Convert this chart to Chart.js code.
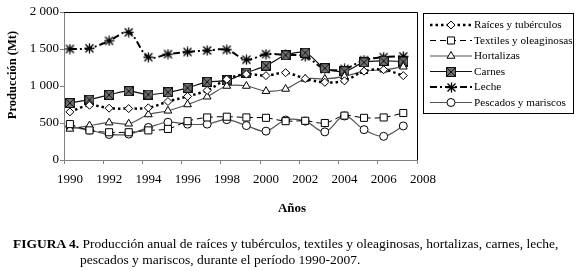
<!DOCTYPE html>
<html><head><meta charset="utf-8">
<script src="https://cdn.jsdelivr.net/npm/chart.js@4.4.1/dist/chart.umd.min.js"></script>
<style>
html,body{margin:0;padding:0;background:#fff;}
#wrap{position:relative;width:576px;height:271px;overflow:hidden;font-family:"Liberation Serif","Times New Roman",serif;color:#000;}
#c{position:absolute;left:0;top:0;}
.t{position:absolute;white-space:nowrap;font-size:13.5px;line-height:16px;}
</style></head>
<body><div id="wrap"><canvas id="c" width="576" height="271" style="width:576px;height:271px"></canvas>
<div class="t" style="left:251px;width:82px;text-align:center;top:200px;font-weight:bold;font-size:13px">Años</div>
<div class="t" style="left:13px;top:236px"><b>FIGURA 4.</b> Producción anual de raíces y tubérculos, textiles y oleaginosas, hortalizas, carnes, leche,</div>
<div class="t" style="left:80px;top:252px">pescados y mariscos, durante el período 1990-2007.</div>
</div>
<script>
const YEARS = [1990,1991,1992,1993,1994,1995,1996,1997,1998,1999,2000,2001,2002,2003,2004,2005,2006,2007];
const RAICES    = [650,740,700,695,705,790,860,940,1090,1160,1140,1180,1100,1050,1070,1200,1220,1140];
const TEXTILES  = [485,400,375,375,400,420,525,575,585,575,570,525,530,500,600,570,575,635];
const HORTALIZAS= [420,465,505,490,615,665,750,855,1000,1000,930,960,1095,1095,1130,1200,1220,1260];
const CARNES    = [770,815,880,930,885,915,975,1055,1075,1180,1275,1415,1450,1240,1200,1320,1340,1330];
const LECHE     = [1500,1510,1610,1725,1390,1430,1460,1480,1490,1355,1430,1420,1400,1230,1230,1350,1390,1400];
const PESCADOS  = [450,405,345,350,440,510,485,485,545,465,390,540,525,380,595,410,320,460];
const SERIES_NAMES = ['Raíces y tubérculos','Textiles y oleaginosas','Hortalizas','Carnes','Leche','Pescados y mariscos'];
const X_TICK_LABELS = ['1990','1992','1994','1996','1998','2000','2002','2004','2006','2008'];
const Y_TICKS = [0,500,1000,1500,2000];
const Y_TITLE = 'Producción (Mt)';

function carnesMarker(){
  const c=document.createElement('canvas'); c.width=10; c.height=10;
  const g=c.getContext('2d');
  g.fillStyle='#6e6e6e'; g.fillRect(0,0,10,10);
  g.strokeStyle='#111'; g.lineWidth=1; g.strokeRect(0.5,0.5,9,9);
  g.beginPath(); g.moveTo(1,1); g.lineTo(9,9); g.moveTo(9,1); g.lineTo(1,9); g.stroke();
  return c;
}
function starMarker(){
  const c=document.createElement('canvas'); c.width=11; c.height=11;
  const g=c.getContext('2d');
  g.strokeStyle='#000'; g.lineWidth=1.3;
  g.beginPath();
  g.moveTo(1.5,1.5); g.lineTo(9.5,9.5); g.moveTo(9.5,1.5); g.lineTo(1.5,9.5);
  g.moveTo(5.5,0.5); g.lineTo(5.5,10.5); g.moveTo(0.5,5.5); g.lineTo(10.5,5.5);
  g.stroke();
  return c;
}
const CARNES_PT = carnesMarker();
const STAR_PT = starMarker();

function pts(arr){ return arr.map((v,i)=>({x:YEARS[i], y:v})); }

const datasets = [
  {label:SERIES_NAMES[0], data:pts(RAICES), borderColor:'#000', borderWidth:2.5, borderDash:[2.5,3],
   pointStyle:'rectRot', pointRadius:4, pointBorderWidth:1, pointBackgroundColor:'#fff', pointBorderColor:'#000'},
  {label:SERIES_NAMES[1], data:pts(TEXTILES), borderColor:'#000', borderWidth:1, borderDash:[6,4],
   pointStyle:'rect', pointRadius:5, pointBorderWidth:1, pointBackgroundColor:'#fff', pointBorderColor:'#000'},
  {label:SERIES_NAMES[2], data:pts(HORTALIZAS), borderColor:'#555', borderWidth:1.2, borderDash:[],
   pointStyle:'triangle', pointRadius:4.5, pointBorderWidth:1, pointBackgroundColor:'#fff', pointBorderColor:'#000'},
  {label:SERIES_NAMES[3], data:pts(CARNES), borderColor:'#111', borderWidth:1.2, borderDash:[],
   pointStyle:CARNES_PT, pointRadius:5, pointBorderWidth:1, pointBackgroundColor:'#6e6e6e', pointBorderColor:'#000'},
  {label:SERIES_NAMES[4], data:pts(LECHE), borderColor:'#000', borderWidth:2, borderDash:[7,3,2,3],
   pointStyle:STAR_PT, pointRadius:5, pointBorderWidth:1, pointBackgroundColor:'#000', pointBorderColor:'#000'},
  {label:SERIES_NAMES[5], data:pts(PESCADOS), borderColor:'#555', borderWidth:1.2, borderDash:[],
   pointStyle:'circle', pointRadius:4, pointBorderWidth:1, pointBackgroundColor:'#fff', pointBorderColor:'#000'}
];
datasets.forEach(d=>{ d.tension=0.35; d.fill=false; d.pointHoverRadius=d.pointRadius; });

const FONT = '"Liberation Serif","Times New Roman",serif';

const boxPlugin = {
  id:'box',
  afterDraw(chart){
    const {ctx, chartArea:a} = chart;
    ctx.save();
    ctx.strokeStyle='#000'; ctx.lineWidth=1;
    ctx.beginPath();
    ctx.moveTo(a.left, Math.round(a.top)+0.5); ctx.lineTo(Math.round(a.right)+0.5, Math.round(a.top)+0.5);
    ctx.lineTo(Math.round(a.right)+0.5, a.bottom);
    ctx.stroke();
    // y-axis title
    ctx.save();
    ctx.translate(13, 75); ctx.rotate(-Math.PI/2);
    ctx.font='bold 12.5px '+FONT; ctx.textAlign='center'; ctx.textBaseline='middle'; ctx.fillStyle='#000';
    ctx.fillText(Y_TITLE, 0, 0);
    ctx.restore();
    // legend
    const lx=423.5, ly=13.5, lw=150, lh=100;
    ctx.strokeRect(lx,ly,lw,lh);
    ctx.font='11.2px '+FONT; ctx.textBaseline='middle'; ctx.textAlign='left'; ctx.fillStyle='#000';
    chart.data.datasets.forEach((d,i)=>{
      const y = 25 + i*15.5;
      ctx.save();
      ctx.strokeStyle=d.borderColor; ctx.lineWidth=d.borderWidth; ctx.setLineDash(d.borderDash||[]);
      ctx.beginPath(); ctx.moveTo(430,y); ctx.lineTo(472,y); ctx.stroke();
      ctx.setLineDash([]);
      const ps=d.pointStyle;
      if (ps instanceof HTMLCanvasElement){
        ctx.drawImage(ps, Math.round(451-ps.width/2), Math.round(y-ps.height/2));
      } else {
        ctx.fillStyle=d.pointBackgroundColor; ctx.strokeStyle=d.pointBorderColor; ctx.lineWidth=d.pointBorderWidth;
        Chart.helpers.drawPoint(ctx, {pointStyle:ps, radius:d.pointRadius, borderWidth:d.pointBorderWidth, rotation:0}, 451, y);
      }
      ctx.restore();
      ctx.fillStyle='#000';
      ctx.fillText(d.label, 474, y+0.5);
    });
    ctx.restore();
  }
};

new Chart(document.getElementById('c'), {
  type:'line',
  data:{datasets},
  plugins:[boxPlugin],
  options:{
    responsive:false, animation:false,
    layout:{padding:{left:0, top:12, right:159, bottom:87}},
    plugins:{legend:{display:false}, tooltip:{enabled:false}},
    scales:{
      x:{type:'linear', min:1989.7, max:2007.7,
        afterBuildTicks:(s)=>{ s.ticks = X_TICK_LABELS.map(l=>({value:Number(l)-0.3})); },
        afterFit:(s)=>{ s.height=24; },
        ticks:{autoSkip:false, maxRotation:0, labelOffset:6, padding:8, color:'#000', font:{family:FONT, size:13},
          callback:(v,i)=>X_TICK_LABELS[i]},
        grid:{display:true, drawOnChartArea:false, drawTicks:true, tickLength:4, color:'#808080'},
        border:{display:true, color:'#808080', width:1}
      },
      y:{min:0, max:2000,
        afterBuildTicks:(s)=>{ s.ticks = Y_TICKS.map(v=>({value:v})); },
        afterFit:(s)=>{ s.width=64; },
        ticks:{padding:1, color:'#000', font:{family:FONT, size:13},
          callback:(v)=>String(v).replace(/\B(?=(\d{3})+(?!\d))/g,' ')},
        grid:{display:true, drawOnChartArea:false, drawTicks:true, tickLength:4, color:'#808080'},
        border:{display:true, color:'#808080', width:1},
        title:{display:false}
      }
    }
  }
});
</script>
</body></html>
